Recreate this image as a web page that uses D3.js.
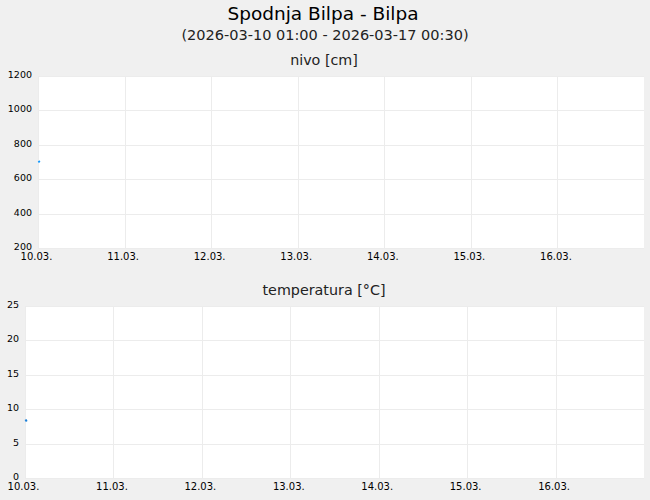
<!DOCTYPE html>
<html><head><meta charset="utf-8">
<script src="https://cdn.jsdelivr.net/npm/d3@7"></script>
<style>
body{margin:0;background:#f0f0f0;}
svg{display:block;font-family:"DejaVu Sans",sans-serif;}
</style></head><body>
<svg id="c" width="650" height="500"></svg>
<script>
const title = "Spodnja Bilpa - Bilpa";
const subtitle = "(2026-03-10 01:00 - 2026-03-17 00:30)";
const dayTicks = ["2026-03-10","2026-03-11","2026-03-12","2026-03-13","2026-03-14","2026-03-15","2026-03-16"];
const nivoTimes = ["2026-03-10T00:00","2026-03-10T00:20"];
const nivoValues = [706, 698];
const tempTimes = ["2026-03-10T00:00","2026-03-10T00:20"];
const tempValues = [8.5, 8.2];
const nivoTicks = [200,400,600,800,1000,1200];
const tempTicks = [0,5,10,15,20,25];

const parse = d3.timeParse("%Y-%m-%dT%H:%M");
const parseDay = d3.timeParse("%Y-%m-%d");
const fmt = d3.timeFormat("%d.%m.");
const svg = d3.select("#c");

svg.append("text").attr("x",323).attr("y",20).attr("text-anchor","middle")
  .attr("font-size",18.5).attr("fill","#000").text(title);
svg.append("text").attr("x",325).attr("y",40).attr("text-anchor","middle")
  .attr("font-size",14.5).attr("fill","#222").text(subtitle);

function panel(cfg){
  const {left,right,top,bottom,ydom,yticks,times,values,label,labelY,color} = cfg;
  const x = d3.scaleTime().domain([parseDay("2026-03-10"),parseDay("2026-03-17")]).range([left,right]);
  const y = d3.scaleLinear().domain(ydom).range([bottom,top]);
  svg.append("rect").attr("x",left).attr("y",top).attr("width",right-left).attr("height",bottom-top).attr("fill","#fff");
  svg.append("text").attr("x",324).attr("y",labelY).attr("text-anchor","middle")
    .attr("font-size",14.3).attr("fill","#222").text(label);
  const g = svg.append("g");
  g.selectAll("line.h").data(yticks).join("line")
    .attr("x1",left).attr("x2",right).attr("y1",d=>Math.round(y(d))+0.5).attr("y2",d=>Math.round(y(d))+0.5)
    .attr("stroke","#ececec").attr("stroke-width",1);
  const days = dayTicks.map(parseDay);
  g.selectAll("line.v").data(days).join("line")
    .attr("y1",top).attr("y2",bottom).attr("x1",d=>Math.round(x(d))+0.5).attr("x2",d=>Math.round(x(d))+0.5)
    .attr("stroke","#ececec").attr("stroke-width",1);
  g.selectAll("text.y").data(yticks).join("text")
    .attr("x",left-6).attr("y",d=>y(d)+2).attr("text-anchor","end")
    .attr("font-size",9.5).attr("fill","#000").text(d=>d);
  g.selectAll("text.x").data(days).join("text")
    .attr("x",d=>x(d)-1.5).attr("y",bottom+12).attr("text-anchor","middle")
    .attr("font-size",10).attr("fill","#000").text(d=>fmt(d).replace(/^0/,""));
  const pts = times.map((t,i)=>[parse(t),values[i]]);
  g.append("path").datum(pts)
    .attr("d",d3.line().x(d=>x(d[0])+0.5).y(d=>y(d[1])))
    .attr("fill","none").attr("stroke",color).attr("stroke-width",2);
}

panel({left:38,right:644,top:76,bottom:248,ydom:[200,1200],yticks:nivoTicks,
  times:nivoTimes,values:nivoValues,label:"nivo [cm]",labelY:65,color:"#0a96ff"});
panel({left:25,right:644,top:306,bottom:478,ydom:[0,25],yticks:tempTicks,
  times:tempTimes,values:tempValues,label:"temperatura [°C]",labelY:295,color:"#1a7fd8"});
</script></body></html>
